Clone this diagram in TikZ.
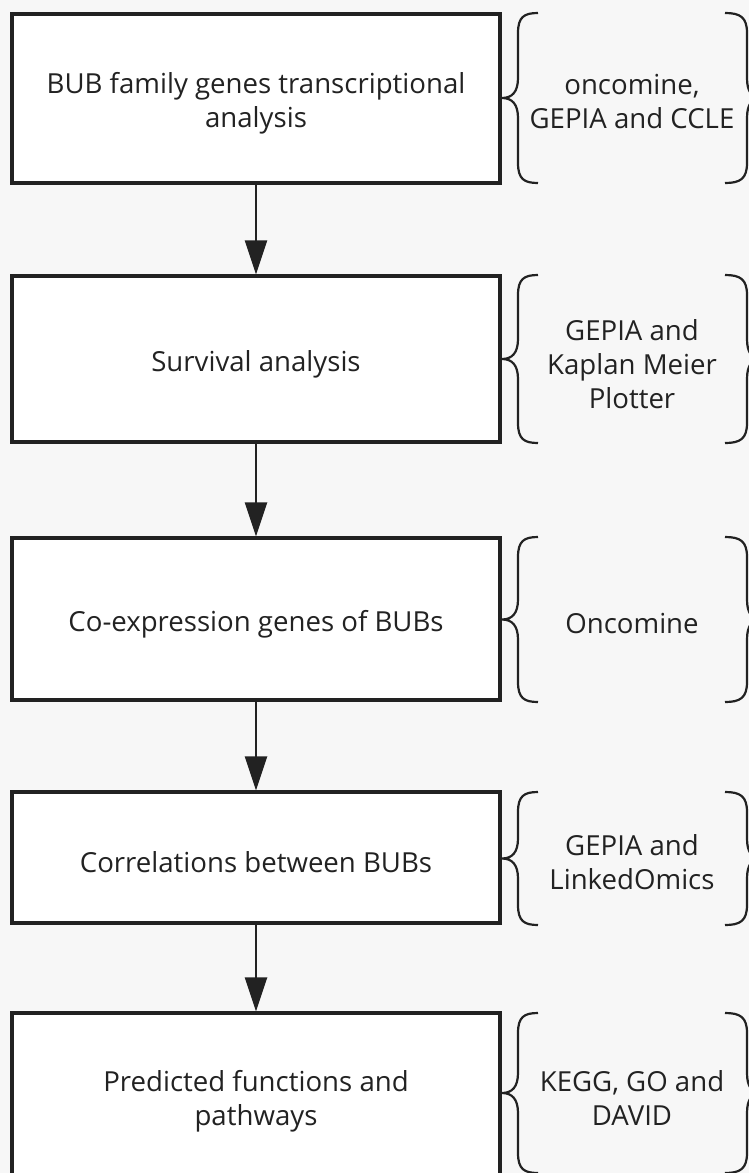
\documentclass[tikz,border=0pt]{standalone}
\usepackage{fontspec}
\setmainfont{Open Sans}
\usetikzlibrary{arrows.meta}
\definecolor{bg}{RGB}{247,247,247}
\definecolor{ink}{RGB}{34,34,34}
\newcommand\bracepairs[2]{%
  \pgfmathsetmacro\bmid{(#1+#2)/2}%
  \draw[bracestyle] (538,#1) .. controls (524,#1) and (518,{#1+4}) .. (518,{#1+20})
    -- (518,{\bmid-20}) .. controls (518,{\bmid-6}) and (512,\bmid) .. (502,\bmid)
    .. controls (512,\bmid) and (518,{\bmid+6}) .. (518,{\bmid+20})
    -- (518,{#2-20}) .. controls (518,{#2-4}) and (524,#2) .. (538,#2);
  \draw[bracestyle] (725,#1) .. controls (740,#1) and (747,{#1+4}) .. (747,{#1+20})
    -- (747,{\bmid-20}) .. controls (747,{\bmid-6}) and (752,\bmid) .. (762,\bmid)
    .. controls (752,\bmid) and (747,{\bmid+6}) .. (747,{\bmid+20})
    -- (747,{#2-20}) .. controls (747,{#2-4}) and (740,#2) .. (725,#2);
}
\begin{document}
\begin{tikzpicture}[x=1pt,y=-1pt,
  box/.style={draw=ink, line width=3.2pt, fill=white, minimum width=488pt, inner sep=0pt},
  srctext/.style={align=center, font=\fontsize{27.6}{34}\selectfont, text=ink, inner sep=0pt},
  boxtext/.style={srctext, yshift=-5pt},
  bracestyle/.style={draw=ink, line width=2.2pt},
  arr/.style={draw=ink, line width=2.6pt, -{Triangle[width=22pt,length=34pt]}}]
\useasboundingbox (0,0) rectangle (749,1173);
\clip (0,0) rectangle (749,1173);
\fill[bg] (0,0) rectangle (749,1173);

\node[box, minimum height=169pt, label={[boxtext]center:{BUB family genes transcriptional\\analysis}}] (b1) at (256,98.5) {};
\node[box, minimum height=166pt, label={[boxtext]center:{Survival analysis}}] (b2) at (256,359) {};
\node[box, minimum height=162pt, label={[boxtext]center:{Co-expression genes of BUBs}}] (b3) at (256,619) {};
\node[box, minimum height=131pt, label={[boxtext]center:{Correlations between BUBs}}] (b4) at (256,857.5) {};
\node[box, minimum height=167pt, label={[boxtext]center:{Predicted functions and\\pathways}}] (b5) at (256,1096.5) {};

\draw[arr] (b1) -- (b2);
\draw[arr] (b2) -- (b3);
\draw[arr] (b3) -- (b4);
\draw[arr] (b4) -- (b5);

\bracepairs{13}{183}
\bracepairs{275}{443}
\bracepairs{537}{702}
\bracepairs{792}{925}
\bracepairs{1013}{1173}

\node[srctext] (s1) at (632,102) {oncomine,\\GEPIA and CCLE};
\node[srctext] (s2) at (632,364) {GEPIA and\\Kaplan Meier\\Plotter};
\node[srctext] (s3) at (632,623) {Oncomine};
\node[srctext] (s4) at (632,862) {GEPIA and\\LinkedOmics};
\node[srctext] (s5) at (632,1098) {KEGG, GO and\\DAVID};
\end{tikzpicture}
\end{document}
